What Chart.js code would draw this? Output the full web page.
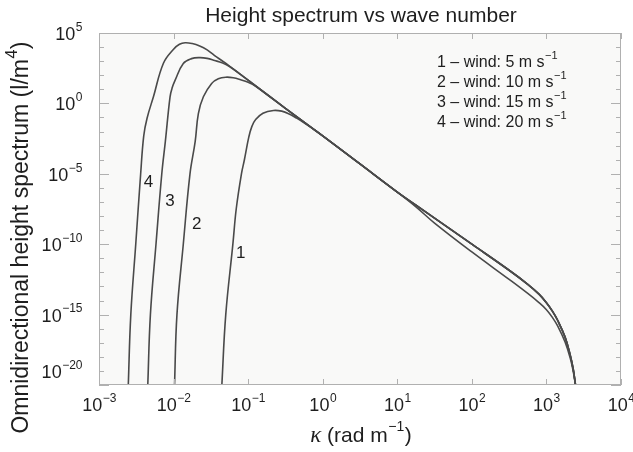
<!DOCTYPE html>
<html>
<head>
<meta charset="utf-8">
<script src="https://cdn.jsdelivr.net/npm/chart.js@4/dist/chart.umd.min.js"></script>
<style>
    body { margin: 0; background: #ffffff; }
    #chart { display: block; }
</style>
</head>
<body>
<canvas id="chart" width="633" height="452"></canvas>
<script>
// wave number (rad/m) and spectrum (l/m^4)
const k1 = [4.44e-2, 5.01e-2, 6.24e-2, 6.92e-2, 8.13e-2, 8.91e-2, 0.102, 0.112, 0.126, 0.158, 0.219, 0.282, 0.355, 0.447, 0.562, 0.708,
    1, 3.16, 10, 17.8, 31.6, 100, 316, 562, 794, 1000, 1202, 1413, 1778, 2089, 2291, 2455];
const s1 = [1e-20, 1e-15, 1e-10, 3.16e-8, 1e-5, 1e-4, 3.98e-3, 2.24e-2, 7.08e-2, 0.2, 0.316, 0.282, 0.178, 8.91e-2, 4.17e-2, 1.82e-2,
    5.01e-3, 5.01e-5, 5.01e-7, 4.47e-8, 3.16e-9, 2.82e-11, 3.16e-13, 3.16e-14, 7.08e-15, 2.24e-15, 6.31e-16, 1.58e-16, 1.12e-17, 7.94e-19, 8.91e-20, 1e-20];

const k2 = [1.03e-2, 1.11e-2, 1.35e-2, 1.66e-2, 1.95e-2, 2.15e-2, 2.51e-2, 3.24e-2, 3.98e-2, 5.01e-2, 6.31e-2, 7.94e-2, 0.1, 0.126];
const s2 = [1e-20, 1e-15, 1e-10, 1e-5, 2.0e-3, 0.19, 2.95, 26.3, 56.2, 72.4, 66.1, 47.9, 31.6, 16.6];

const k3 = [4.51e-3, 4.89e-3, 5.81e-3, 6.95e-3, 7.76e-3, 8.97e-3, 9.55e-3, 1.05e-2, 1.35e-2, 1.74e-2, 2.24e-2, 2.82e-2, 3.55e-2, 4.47e-2, 5.62e-2, 0.1];
const s3 = [1e-20, 1e-15, 1e-10, 1e-5, 2.0e-3, 2.95, 12.2, 44.7, 692, 1514, 1778, 1585, 1122, 759, 417, 44.7];

const k4 = [2.47e-3, 2.67e-3, 3.11e-3, 3.62e-3, 3.98e-3, 4.41e-3, 5.37e-3, 7.31e-3, 1.0e-2, 1.20e-2, 1.43e-2, 1.78e-2, 2.24e-2, 2.82e-2, 3.55e-2, 4.47e-2, 5.62e-2, 0.1];
const s4 = [1e-20, 1e-15, 1e-10, 1e-5, 5.01e-3, 8.9e-2, 2.95, 708, 7080, 1.58e4, 2.04e4, 1.78e4, 1.20e4, 6310, 2510, 1070, 447, 44.7];

// common high wave number part of curves 2, 3 and 4
const kTail = [0.316, 1, 3.16, 10, 17.8, 31.6, 100, 316, 562, 794, 1000, 1202, 1413, 1778, 2089, 2291, 2455];
const sTail = [0.447, 5.01e-3, 5.01e-5, 5.01e-7, 5.89e-8, 7.08e-9, 1e-10, 1.41e-12, 1.41e-13, 2.82e-14, 7.08e-15, 1.78e-15, 3.98e-16, 2.51e-17, 1.26e-18, 1.26e-19, 1e-20];

const xDecades = [-3, -2, -1, 0, 1, 2, 3, 4];
const yDecades = [-20, -19, -18, -17, -16, -15, -14, -13, -12, -11, -10, -9, -8, -7, -6, -5, -4, -3, -2, -1, 0, 1, 2, 3, 4, 5];

const legendLines = ["1 \u2013 wind: 5 m s", "2 \u2013 wind: 10 m s", "3 \u2013 wind: 15 m s", "4 \u2013 wind: 20 m s"];
const curveLabels = ["1", "2", "3", "4"];
const labelK = [7.98e-2, 2.05e-2, 8.97e-3, 4.59e-3];
const labelS = [2.09e-11, 2.57e-9, 1.10e-7, 2.63e-6];

const FONT = '"Liberation Sans", Arial, sans-serif';
const INK = "#1e1e1e";

function points(ks, ss) {
    let out = [];
    for (let i = 0; i < ks.length; i++) {
        out.push({x: ks[i], y: ss[i]});
    }
    return out;
}

function curve(data) {
    return {
        data: data,
        borderColor: "#4a4a4a",
        borderWidth: 1.6,
        pointRadius: 0,
        fill: false,
        tension: 0.4
    };
}

// text with a raised exponent; align: left / center / right
function supText(ctx, x, y, base, sup, align, size) {
    const supSize = Math.round(size * 0.68);
    ctx.font = size + "px " + FONT;
    const wb = ctx.measureText(base).width;
    ctx.font = supSize + "px " + FONT;
    const ws = ctx.measureText(sup).width;
    const w = wb + ws;
    let x0 = x;
    if (align === "center") x0 = x - w / 2;
    if (align === "right") x0 = x - w;
    ctx.textAlign = "left";
    ctx.textBaseline = "middle";
    ctx.font = size + "px " + FONT;
    ctx.fillText(base, x0, y);
    ctx.font = supSize + "px " + FONT;
    ctx.fillText(sup, x0 + wb + 0.5, y - size * 0.42);
    return x0 + w;
}

function expLabel(e) {
    return e < 0 ? "\u2212" + Math.abs(e) : String(e);
}

const frame = {
    id: "frame",
    beforeDraw(chart) {
        const ctx = chart.ctx;
        const a = chart.chartArea;
        ctx.save();
        ctx.fillStyle = "#f9f9f8";
        ctx.fillRect(a.left, a.top, a.right - a.left, a.bottom - a.top);
        ctx.restore();
    },
    afterDraw(chart) {
        const ctx = chart.ctx;
        const a = chart.chartArea;
        const xs = chart.scales.x;
        const ys = chart.scales.y;
        ctx.save();

        // frame and inward ticks
        ctx.strokeStyle = "#b0b0b0";
        ctx.lineWidth = 1;
        ctx.strokeRect(a.left + 0.5, a.top + 0.5, a.right - a.left - 1, a.bottom - a.top - 1);
        ctx.beginPath();
        xDecades.forEach((e) => {
            const px = Math.round(xs.getPixelForValue(Math.pow(10, e))) + 0.5;
            ctx.moveTo(px, a.bottom);
            ctx.lineTo(px, a.bottom - 6);
            ctx.moveTo(px, a.top);
            ctx.lineTo(px, a.top + 6);
        });
        yDecades.forEach((e) => {
            const py = Math.round(ys.getPixelForValue(Math.pow(10, e))) + 0.5;
            const len = e % 5 === 0 ? 10 : 5;
            ctx.moveTo(a.left, py);
            ctx.lineTo(a.left + len, py);
            ctx.moveTo(a.right, py);
            ctx.lineTo(a.right - len, py);
        });
        ctx.stroke();

        ctx.fillStyle = INK;

        // tick labels
        xDecades.forEach((e) => {
            const px = xs.getPixelForValue(Math.pow(10, e));
            supText(ctx, px, a.bottom + 21, "10", expLabel(e), "center", 18);
        });
        yDecades.forEach((e) => {
            if (e % 5 !== 0) return;
            let py = ys.getPixelForValue(Math.pow(10, e)) + 2;
            if (e === -20) py -= 14;
            supText(ctx, a.left - 17, py, "10", expLabel(e), "right", 18);
        });

        // title
        ctx.font = "21px " + FONT;
        ctx.textAlign = "center";
        ctx.textBaseline = "alphabetic";
        ctx.fillText("Height spectrum vs wave number", 361, 22);

        // x axis title
        ctx.font = "italic 23px \"Liberation Serif\", serif";
        const wk = ctx.measureText("\u03ba").width;
        ctx.font = "21px " + FONT;
        const wr = ctx.measureText(" (rad m").width;
        const wc = ctx.measureText(")").width;
        ctx.font = "14px " + FONT;
        const wsup = ctx.measureText("\u22121").width;
        let x0 = 361 - (wk + wr + wsup + wc + 1) / 2;
        ctx.textAlign = "left";
        ctx.textBaseline = "middle";
        ctx.font = "italic 23px \"Liberation Serif\", serif";
        ctx.fillText("\u03ba", x0, 436);
        x0 = supText(ctx, x0 + wk, 436, " (rad m", "\u22121", "left", 21);
        ctx.font = "21px " + FONT;
        ctx.fillText(")", x0 + 1, 436);

        // y axis title
        ctx.save();
        ctx.translate(22, 237);
        ctx.rotate(-Math.PI / 2);
        ctx.font = "23px " + FONT;
        const wy = ctx.measureText("Omnidirectional height spectrum (l/m").width + 11 + ctx.measureText(")").width;
        const end = supText(ctx, -wy / 2, 0, "Omnidirectional height spectrum (l/m", "4", "left", 23);
        ctx.font = "23px " + FONT;
        ctx.fillText(")", end + 1, 0);
        ctx.restore();

        // legend
        legendLines.forEach((t, i) => {
            supText(ctx, 437, 63 + i * 20, t, "\u22121", "left", 16);
        });

        // curve numbers
        ctx.font = "17px " + FONT;
        ctx.textAlign = "center";
        ctx.textBaseline = "middle";
        curveLabels.forEach((t, i) => {
            ctx.fillText(t, xs.getPixelForValue(labelK[i]), ys.getPixelForValue(labelS[i]));
        });

        ctx.restore();
    }
};

new Chart(document.getElementById("chart"), {
    type: "line",
    data: {
        datasets: [
            curve(points(k1, s1)),
            curve(points(k2.concat(kTail), s2.concat(sTail))),
            curve(points(k3.concat(kTail), s3.concat(sTail))),
            curve(points(k4.concat(kTail), s4.concat(sTail)))
        ]
    },
    options: {
        responsive: false,
        animation: false,
        devicePixelRatio: 1,
        layout: {
            padding: {left: 99, right: 12, top: 33, bottom: 67}
        },
        scales: {
            x: {type: "logarithmic", min: 1e-3, max: 1e4, display: false},
            y: {type: "logarithmic", min: 1e-20, max: 1e5, display: false}
        },
        plugins: {
            legend: {display: false},
            tooltip: {enabled: false}
        }
    },
    plugins: [frame]
});
</script>
</body>
</html>
